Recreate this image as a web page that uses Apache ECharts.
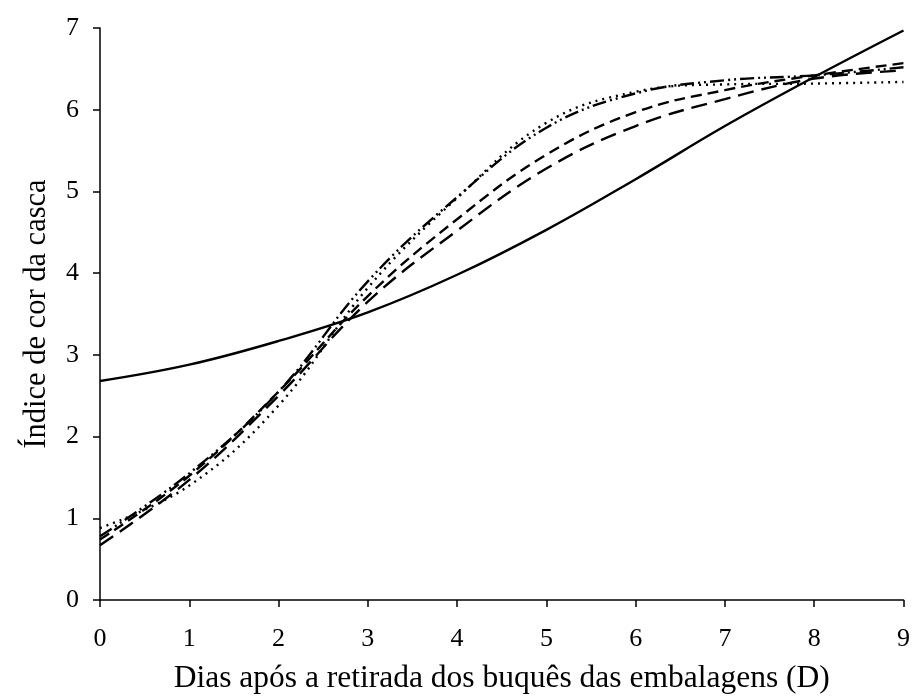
<!DOCTYPE html>
<html>
<head>
<meta charset="utf-8">
<script src="https://cdn.jsdelivr.net/npm/echarts@6/dist/echarts.min.js"></script>
<style>html,body{margin:0;padding:0;background:#fff}#c{width:913px;height:700px}</style>
</head>
<body>
<div id="c"></div>
<script>
var days = [0, 1, 2, 3, 4, 5, 6, 7, 8, 9];
var solidVals      = [2.68, 2.88, 3.17, 3.52, 3.98, 4.53, 5.15, 5.80, 6.40, 6.97];
var longDashVals   = [0.67, 1.47, 2.50, 3.65, 4.52, 5.28, 5.80, 6.13, 6.38, 6.48];
var mediumDashVals = [0.74, 1.52, 2.55, 3.72, 4.66, 5.45, 5.97, 6.24, 6.42, 6.57];
var dashDotVals    = [0.78, 1.55, 2.55, 3.90, 4.93, 5.78, 6.20, 6.36, 6.42, 6.52];
var dottedVals     = [0.88, 1.40, 2.38, 3.82, 4.92, 5.84, 6.22, 6.31, 6.32, 6.34];
var xTicks = [0, 1, 2, 3, 4, 5, 6, 7, 8, 9];
var yTicks = [0, 1, 2, 3, 4, 5, 6, 7];

function pairs(vals){ return days.map(function(d,i){ return [d, vals[i]]; }); }
function mk(name, vals, type){
  return { name: name, type: 'line', data: pairs(vals), smooth: 0.4, showSymbol: false,
    lineStyle: { color: '#000', width: 2.4, type: type }, z: 3 };
}
var font = '"Liberation Serif", "Times New Roman", serif';
var chart = echarts.init(document.getElementById('c'), null, {renderer: 'canvas'});
chart.setOption({
  animation: false,
  backgroundColor: '#fff',
  grid: { left: 100, right: 7, top: 28, bottom: 97 },
  xAxis: {
    type: 'value', min: xTicks[0], max: xTicks[xTicks.length-1], interval: 1,
    name: 'Dias após a retirada dos buquês das embalagens (D)',
    nameLocation: 'middle', nameGap: 63,
    nameTextStyle: { fontFamily: font, fontSize: 31.5, color: '#000' },
    axisLine: { show: true, lineStyle: { color: '#000', width: 1.5 } },
    axisTick: { show: true, inside: false, length: 7, lineStyle: { color: '#000', width: 1.5 } },
    axisLabel: { fontFamily: font, fontSize: 26, color: '#000', margin: 26 },
    splitLine: { show: false }
  },
  yAxis: {
    type: 'value', min: yTicks[0], max: yTicks[yTicks.length-1], interval: 1,
    name: 'Índice de cor da casca',
    nameLocation: 'middle', nameGap: 48, nameRotate: 90,
    nameTextStyle: { fontFamily: font, fontSize: 30.5, color: '#000' },
    axisLine: { show: true, lineStyle: { color: '#000', width: 1.5 } },
    axisTick: { show: true, inside: false, length: 7, lineStyle: { color: '#000', width: 1.5 } },
    axisLabel: { fontFamily: font, fontSize: 26, color: '#000', margin: 21 },
    splitLine: { show: false }
  },
  series: [
    mk('A', solidVals, 'solid'),
    mk('B', longDashVals, [16, 8]),
    mk('C', mediumDashVals, [11, 6]),
    mk('D', dashDotVals, [14, 4, 2, 4, 2, 4]),
    mk('E', dottedVals, [2, 5])
  ]
});
</script>
</body>
</html>
